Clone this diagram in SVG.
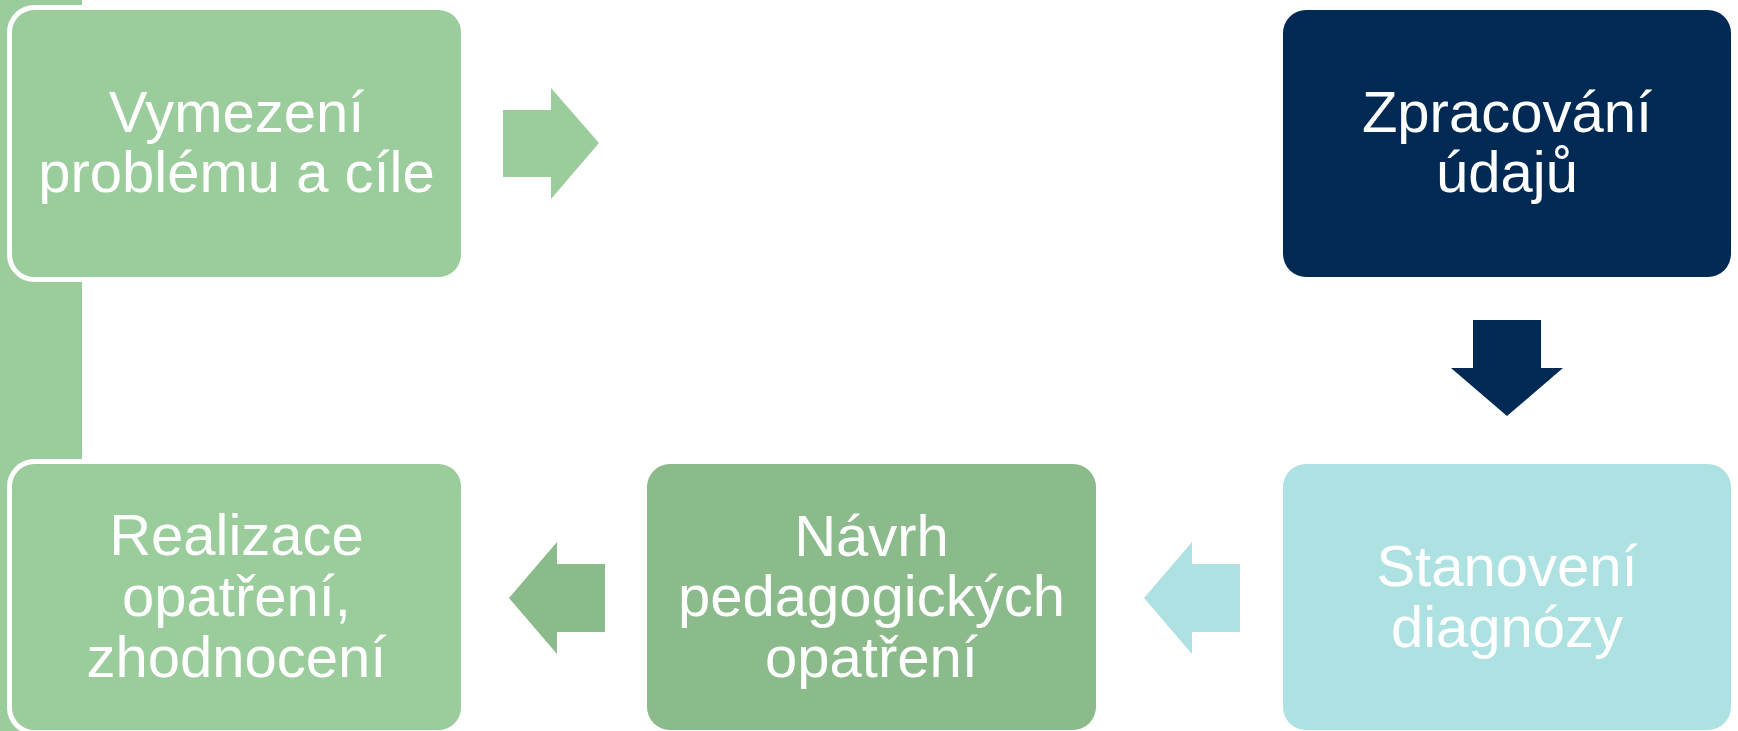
<svg xmlns="http://www.w3.org/2000/svg" width="1738" height="731" viewBox="0 0 1738 731">
<style>
.t{font-family:"Liberation Sans",Arial,sans-serif;font-size:58px;fill:#ffffff;text-anchor:middle}
</style>
<rect width="1738" height="731" fill="#ffffff"/>
<rect id="bar" x="0" y="0" width="82" height="731" fill="#9BCC9B"/>
<g id="connectors">
<polygon points="503,110 551,110 551,88 599,143 551,199 551,177 503,177" fill="#9BCC9B"/>
<polygon points="1473,320 1541,320 1541,368 1563,368 1507,416 1451,368 1473,368" fill="#002A54"/>
<polygon points="1240,564 1192,564 1192,542 1144,598 1192,654 1192,632 1240,632" fill="#AEE1E1"/>
<polygon points="605,564 557,564 557,542 509,598 557,654 557,632 605,632" fill="#8BBA8B"/>
</g>
<g id="n1">
<rect x="9.5" y="7.5" width="454" height="272" rx="25" fill="#9BCC9B" stroke="#ffffff" stroke-width="5"/>
<text class="t" x="236.5" y="132">Vymezení</text>
<text class="t" x="236.5" y="192">problému a cíle</text>
</g>
<g id="n2">
<rect x="1283" y="10" width="448" height="267" rx="23" fill="#002A54"/>
<text class="t" x="1507" y="132">Zpracování</text>
<text class="t" x="1507" y="192">údajů</text>
</g>
<g id="n3">
<rect x="1283" y="464" width="448" height="266" rx="23" fill="#AEE1E1"/>
<text class="t" x="1507" y="586">Stanovení</text>
<text class="t" x="1507" y="647">diagnózy</text>
</g>
<g id="n4">
<rect x="647" y="464" width="449" height="266" rx="23" fill="#8BBA8B"/>
<text class="t" x="871.5" y="556">Návrh</text>
<text class="t" x="871.5" y="616">pedagogických</text>
<text class="t" x="871.5" y="677">opatření</text>
</g>
<g id="n5">
<rect x="9.5" y="461.5" width="454" height="271" rx="25" fill="#9BCC9B" stroke="#ffffff" stroke-width="5"/>
<text class="t" x="236.5" y="555">Realizace</text>
<text class="t" x="236.5" y="616">opatření,</text>
<text class="t" x="236.5" y="677">zhodnocení</text>
</g>
</svg>
